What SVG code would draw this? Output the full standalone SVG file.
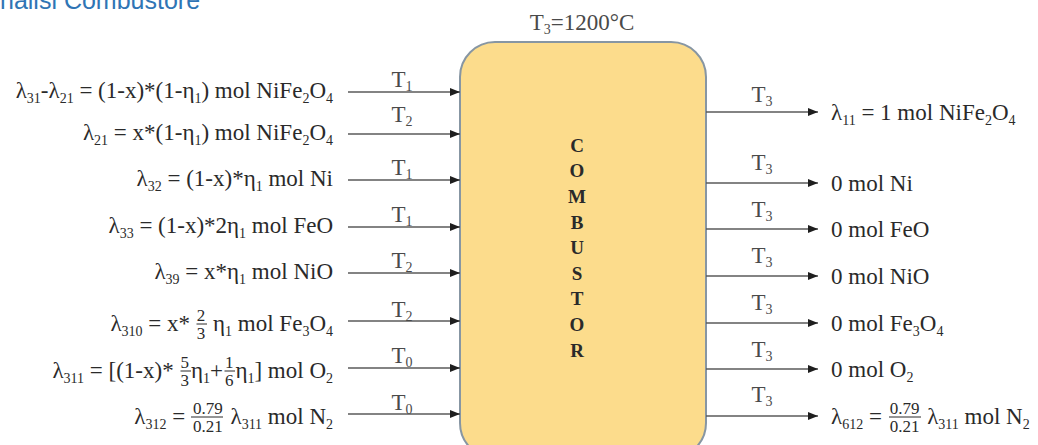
<svg xmlns="http://www.w3.org/2000/svg" width="1038" height="445" viewBox="0 0 1038 445">
<defs>
<marker id="ah" markerUnits="userSpaceOnUse" markerWidth="10" markerHeight="8" refX="10" refY="4" orient="auto"><path d="M0,0 L10,4 L0,8 z" fill="#1e1e1e"/></marker>
<style>
.t{font-family:"Liberation Serif","Times New Roman",serif;font-size:23px;fill:#2a2a2a}
.e{text-anchor:end}
.s{font-size:14px}
.f{font-size:17px}
.tl{font-family:"Liberation Serif","Times New Roman",serif;font-size:23px;fill:#4a4a4a;text-anchor:middle}
.c{font-family:"Liberation Serif","Times New Roman",serif;font-weight:bold;font-size:19px;fill:#2a2a2a;text-anchor:middle}
.ln{stroke:#5a5a5a;stroke-width:1.6;fill:none;marker-end:url(#ah)}
.fb{stroke:#2a2a2a;stroke-width:1}
.hd{font-family:"Liberation Sans",Arial,sans-serif;font-size:25px;fill:#2f75b5}
</style>
</defs>
<rect width="1038" height="445" fill="#ffffff"/>
<text class="hd" x="0" y="9">nalisi Combustore</text>

<g id="combustor">
<rect x="460" y="42" width="246" height="416" rx="35" ry="35" fill="#fcdc8c" stroke="#8796a3" stroke-width="2"/>
<text class="c" x="577" y="152">C</text>
<text class="c" x="577" y="177">O</text>
<text class="c" x="577" y="203">M</text>
<text class="c" x="577" y="229">B</text>
<text class="c" x="577" y="254">U</text>
<text class="c" x="577" y="280">S</text>
<text class="c" x="577" y="305">T</text>
<text class="c" x="577" y="331">O</text>
<text class="c" x="577" y="357">R</text>
</g>
<g id="temp-label"><text class="tl" x="582" y="30">T<tspan class="s" dy="4">3</tspan><tspan dy="-4">=1200°C</tspan></text></g>

<g id="connectors">
<line class="ln" x1="348" y1="92" x2="460" y2="92"/>
<line class="ln" x1="348" y1="134" x2="460" y2="134"/>
<line class="ln" x1="348" y1="180" x2="460" y2="180"/>
<line class="ln" x1="348" y1="227" x2="460" y2="227"/>
<line class="ln" x1="348" y1="273" x2="460" y2="273"/>
<line class="ln" x1="348" y1="321" x2="460" y2="321"/>
<line class="ln" x1="348" y1="368" x2="460" y2="368"/>
<line class="ln" x1="348" y1="414" x2="460" y2="414"/>
<line class="ln" x1="706" y1="112" x2="818" y2="112"/>
<line class="ln" x1="706" y1="183" x2="818" y2="183"/>
<line class="ln" x1="706" y1="229" x2="818" y2="229"/>
<line class="ln" x1="706" y1="276" x2="818" y2="276"/>
<line class="ln" x1="706" y1="323" x2="818" y2="323"/>
<line class="ln" x1="706" y1="369" x2="818" y2="369"/>
<line class="ln" x1="706" y1="416" x2="818" y2="416"/>
</g>

<g id="in-temps">
<text class="tl" x="402" y="87">T<tspan class="s" dy="4">1</tspan></text>
<text class="tl" x="402" y="122">T<tspan class="s" dy="4">2</tspan></text>
<text class="tl" x="402" y="175">T<tspan class="s" dy="4">1</tspan></text>
<text class="tl" x="402" y="222">T<tspan class="s" dy="4">1</tspan></text>
<text class="tl" x="402" y="268">T<tspan class="s" dy="4">2</tspan></text>
<text class="tl" x="402" y="317">T<tspan class="s" dy="4">2</tspan></text>
<text class="tl" x="402" y="363">T<tspan class="s" dy="4">0</tspan></text>
<text class="tl" x="402" y="410">T<tspan class="s" dy="4">0</tspan></text>
</g>
<g id="out-temps">
<text class="tl" x="762" y="102">T<tspan class="s" dy="4">3</tspan></text>
<text class="tl" x="762" y="170">T<tspan class="s" dy="4">3</tspan></text>
<text class="tl" x="762" y="217">T<tspan class="s" dy="4">3</tspan></text>
<text class="tl" x="762" y="263">T<tspan class="s" dy="4">3</tspan></text>
<text class="tl" x="762" y="310">T<tspan class="s" dy="4">3</tspan></text>
<text class="tl" x="762" y="357">T<tspan class="s" dy="4">3</tspan></text>
<text class="tl" x="762" y="402">T<tspan class="s" dy="4">3</tspan></text>
</g>

<g id="inputs">
<text class="t e" x="333" y="98">λ<tspan class="s" dy="5">31</tspan><tspan dy="-5">-λ</tspan><tspan class="s" dy="5">21</tspan><tspan dy="-5"> = (1-x)*(1-η</tspan><tspan class="s" dy="5">1</tspan><tspan dy="-5">) mol NiFe</tspan><tspan class="s" dy="5">2</tspan><tspan dy="-5">O</tspan><tspan class="s" dy="5">4</tspan></text>
<text class="t e" x="333" y="140">λ<tspan class="s" dy="5">21</tspan><tspan dy="-5"> = x*(1-η</tspan><tspan class="s" dy="5">1</tspan><tspan dy="-5">) mol NiFe</tspan><tspan class="s" dy="5">2</tspan><tspan dy="-5">O</tspan><tspan class="s" dy="5">4</tspan></text>
<text class="t e" x="333" y="186">λ<tspan class="s" dy="5">32</tspan><tspan dy="-5"> = (1-x)*η</tspan><tspan class="s" dy="5">1</tspan><tspan dy="-5"> mol Ni</tspan></text>
<text class="t e" x="333" y="233">λ<tspan class="s" dy="5">33</tspan><tspan dy="-5"> = (1-x)*2η</tspan><tspan class="s" dy="5">1</tspan><tspan dy="-5"> mol FeO</tspan></text>
<text class="t e" x="333" y="279">λ<tspan class="s" dy="5">39</tspan><tspan dy="-5"> = x*η</tspan><tspan class="s" dy="5">1</tspan><tspan dy="-5"> mol NiO</tspan></text>
<text class="t e" x="333" y="331">λ<tspan class="s" dy="5">310</tspan><tspan dy="-5"> = x* </tspan><tspan class="f" dx="1" dy="-10">2</tspan><tspan class="f" dx="-8.5" dy="18">3</tspan><tspan dx="2" dy="-8"> η</tspan><tspan class="s" dy="5">1</tspan><tspan dy="-5"> mol Fe</tspan><tspan class="s" dy="5">3</tspan><tspan dy="-5">O</tspan><tspan class="s" dy="5">4</tspan></text>
<line class="fb" x1="196.5" y1="324" x2="207" y2="324"/>
<text class="t e" x="333" y="378">λ<tspan class="s" dy="5">311</tspan><tspan dy="-5"> = [(1-x)* </tspan><tspan class="f" dx="1" dy="-10">5</tspan><tspan class="f" dx="-8.5" dy="18">3</tspan><tspan dx="2" dy="-8">η</tspan><tspan class="s" dy="5">1</tspan><tspan dy="-5">+</tspan><tspan class="f" dx="2" dy="-10">1</tspan><tspan class="f" dx="-8.5" dy="18">6</tspan><tspan dx="2" dy="-8">η</tspan><tspan class="s" dy="5">1</tspan><tspan dy="-5">] mol O</tspan><tspan class="s" dy="5">2</tspan></text>
<line class="fb" x1="180.5" y1="371" x2="191" y2="371"/>
<line class="fb" x1="224.5" y1="371" x2="235" y2="371"/>
<text class="t e" x="333" y="424">λ<tspan class="s" dy="5">312</tspan><tspan dy="-5"> = </tspan><tspan class="f" dx="2" dy="-10">0.79</tspan><tspan class="f" dx="-29.75" dy="18">0.21</tspan><tspan dx="2" dy="-8"> λ</tspan><tspan class="s" dy="5">311</tspan><tspan dy="-5"> mol N</tspan><tspan class="s" dy="5">2</tspan></text>
<line class="fb" x1="191" y1="417" x2="223" y2="417"/>
</g>

<g id="outputs">
<text class="t" x="831" y="120">λ<tspan class="s" dy="5">11</tspan><tspan dy="-5"> = 1 mol NiFe</tspan><tspan class="s" dy="5">2</tspan><tspan dy="-5">O</tspan><tspan class="s" dy="5">4</tspan></text>
<text class="t" x="831" y="191">0 mol Ni</text>
<text class="t" x="831" y="237">0 mol FeO</text>
<text class="t" x="831" y="284">0 mol NiO</text>
<text class="t" x="831" y="331">0 mol Fe<tspan class="s" dy="5">3</tspan><tspan dy="-5">O</tspan><tspan class="s" dy="5">4</tspan></text>
<text class="t" x="831" y="377">0 mol O<tspan class="s" dy="5">2</tspan></text>
<text class="t" x="831" y="424">λ<tspan class="s" dy="5">612</tspan><tspan dy="-5"> = </tspan><tspan class="f" dx="2" dy="-10">0.79</tspan><tspan class="f" dx="-29.75" dy="18">0.21</tspan><tspan dx="2" dy="-8"> λ</tspan><tspan class="s" dy="5">311</tspan><tspan dy="-5"> mol N</tspan><tspan class="s" dy="5">2</tspan></text>
<line class="fb" x1="889" y1="417" x2="921" y2="417"/>
</g>
</svg>
